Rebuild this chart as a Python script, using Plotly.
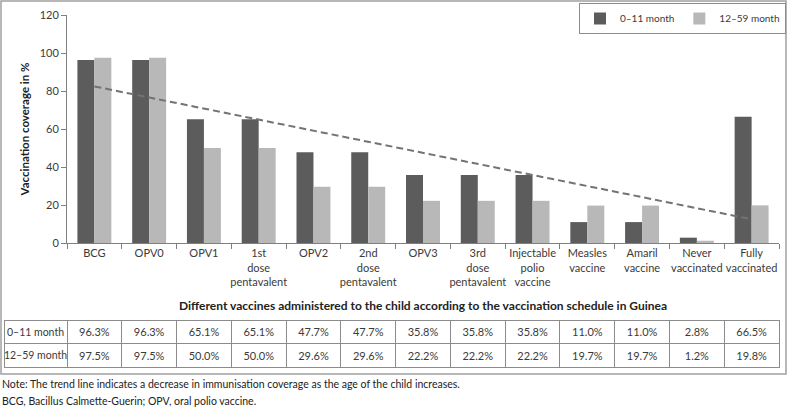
import plotly.graph_objects as go
import numpy as np

categories = ["BCG", "OPV0", "OPV1", "1st dose pentavalent", "OPV2", "2nd dose pentavalent",
              "OPV3", "3rd dose pentavalent", "Injectable polio vaccine", "Measles vaccine",
              "Amaril vaccine", "Never vaccinated", "Fully vaccinated"]
tick_labels = ["BCG", "OPV0", "OPV1", "1st<br>dose<br>pentavalent", "OPV2", "2nd<br>dose<br>pentavalent",
               "OPV3", "3rd<br>dose<br>pentavalent", "Injectable<br>polio<br>vaccine", "Measles<br>vaccine",
               "Amaril<br>vaccine", "Never<br>vaccinated", "Fully<br>vaccinated"]
series_names = ["0\u201311 month", "12\u201359 month"]
vals_0_11 = [96.3, 96.3, 65.1, 65.1, 47.7, 47.7, 35.8, 35.8, 35.8, 11.0, 11.0, 2.8, 66.5]
vals_12_59 = [97.5, 97.5, 50.0, 50.0, 29.6, 29.6, 22.2, 22.2, 22.2, 19.7, 19.7, 1.2, 19.8]
y_ticks = [0, 20, 40, 60, 80, 100, 120]

W, H = 788, 408
ML, MR = 4, 9
PW = W - ML - MR

def px_x(p):
    return (p - ML) / PW

def px_y(p):
    return (H - p) / H

FONT = "Lato, 'Open Sans', sans-serif"
TXT = "#3a3a3a"

# linear trend of the 0-11 month series
xi = np.arange(1, len(categories) + 1)
slope, intercept = np.polyfit(xi, vals_0_11, 1)
trend = slope * xi + intercept

fig = go.Figure()
fig.add_trace(go.Bar(x=categories, y=vals_0_11, name=series_names[0],
                     marker=dict(color="#5c5c5c", line=dict(width=0))))
fig.add_trace(go.Bar(x=categories, y=vals_12_59, name=series_names[1],
                     marker=dict(color="#b8b8b8", line=dict(width=0))))
fig.add_trace(go.Scatter(x=categories, y=trend, mode="lines", showlegend=False,
                         line=dict(color="#737373", width=2, dash="7px,4px"), hoverinfo="skip"))

col_w = 712 / 13
row_names = [n.replace(" ", "\u00a0") for n in series_names]
fsizes = [10.5] + [11] * 13
fig.add_trace(go.Table(
    domain=dict(x=[px_x(4), px_x(779)], y=[px_y(370), px_y(320)]),
    columnwidth=[63] + [col_w] * 13,
    header=dict(values=[row_names[0]] + [f"{v:.1f}%" for v in vals_0_11],
                fill_color="white", line_color="#8c8c8c", height=23.5,
                font=dict(family=FONT, size=fsizes, color=TXT), align="center"),
    cells=dict(values=[[row_names[1]]] + [[f"{v:.1f}%"] for v in vals_12_59],
               fill_color="white", line_color="#8c8c8c", height=23.5,
               font=dict(family=FONT, size=fsizes, color=TXT), align="center"),
))

fig.update_layout(
    width=W, height=H,
    margin=dict(l=ML, r=MR, t=0, b=0, autoexpand=False),
    paper_bgcolor="white", plot_bgcolor="white",
    font=dict(family=FONT, size=11, color=TXT),
    barmode="group", bargap=0.38, bargroupgap=0.0,
    showlegend=True,
    legend=dict(orientation="h", xref="container", yref="container",
                x=786 / W, xanchor="right", y=(H - 3) / H, yanchor="top",
                bordercolor="#8c8c8c", borderwidth=1, font=dict(size=10, color=TXT),
                itemwidth=30, tracegroupgap=0, traceorder="normal"),
    xaxis=dict(domain=[px_x(67), 1], type="category", tickmode="array",
               tickvals=categories, ticktext=tick_labels, tickson="boundaries",
               tickangle=0, automargin=False,
               ticks="outside", ticklen=5, tickcolor="#7f7f7f",
               showline=True, linecolor="#7f7f7f", linewidth=1,
               tickfont=dict(size=11, color=TXT), showgrid=False),
    yaxis=dict(domain=[px_y(243), px_y(15)], range=[0, 120], tickvals=y_ticks,
               automargin=False,
               ticks="outside", ticklen=5, tickcolor="#7f7f7f",
               showline=True, linecolor="#7f7f7f", linewidth=1, showgrid=False, zeroline=False,
               tickfont=dict(size=11, color=TXT),
               title=dict(text="<b>Vaccination coverage in %</b>", font=dict(size=11.5, color="#222"),
                          standoff=7)),
    shapes=[dict(type="rect", xref="paper", yref="paper",
                 x0=px_x(1), x1=px_x(786), y0=px_y(374), y1=px_y(1),
                 line=dict(color="#a0a0a0", width=1.5), fillcolor="rgba(0,0,0,0)", layer="below")],
    annotations=[
        dict(text="<b>Different vaccines administered to the child according to the vaccination schedule in Guinea</b>",
             xref="paper", yref="paper", x=px_x(423), y=px_y(305), xanchor="center", yanchor="middle",
             showarrow=False, font=dict(size=12, color="#222")),
        dict(text="Note: The trend line indicates a decrease in immunisation coverage as the age of the child increases.",
             xref="paper", yref="paper", x=px_x(0), y=px_y(384), xanchor="left", yanchor="middle",
             showarrow=False, font=dict(size=10.5, color="#222")),
        dict(text="BCG, Bacillus Calmette-Guerin; OPV, oral polio vaccine.",
             xref="paper", yref="paper", x=px_x(0), y=px_y(401), xanchor="left", yanchor="middle",
             showarrow=False, font=dict(size=10.5, color="#222")),
    ],
)

fig.write_html("out.html", post_script="document.body.style.margin='0px';",
               config={"displayModeBar": False})
